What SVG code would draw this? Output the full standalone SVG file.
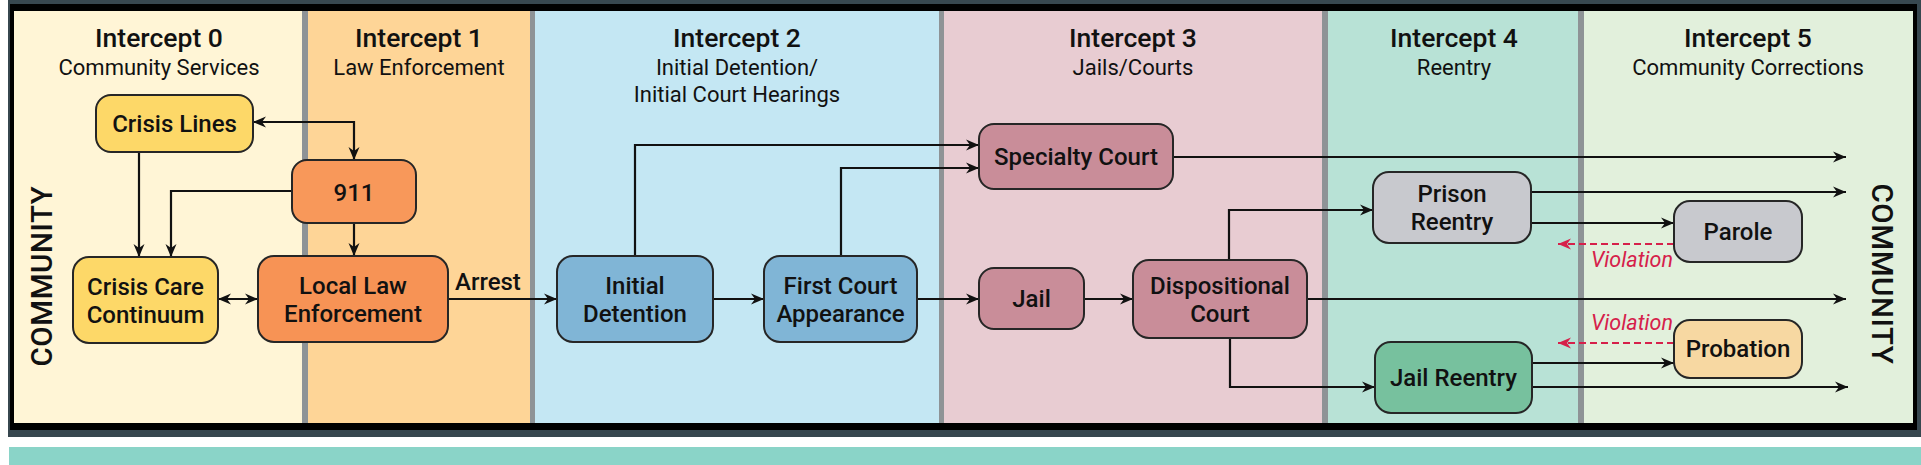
<svg xmlns="http://www.w3.org/2000/svg" width="1921" height="465" viewBox="0 0 1921 465">
<style>
text{font-family:Roboto,"Liberation Sans",sans-serif;fill:#111;}
.h{font-size:26.5px;font-weight:500;text-anchor:middle;}
.s{font-size:22px;font-weight:400;text-anchor:middle;}
.n{font-size:24px;font-weight:500;text-anchor:middle;}
.box{stroke:#262626;stroke-width:2;}
.c{fill:none;stroke:#111;stroke-width:2.2;}
.v{fill:none;stroke:#d6204a;stroke-width:2.2;stroke-dasharray:7 4;}
.vt{font-size:21.5px;font-style:italic;fill:#d6204a;}
.com{font-size:29.5px;font-weight:500;text-anchor:middle;letter-spacing:0.6px;}
</style>
<defs>
<marker id="ar" viewBox="-14 -7 15 14" markerWidth="15" markerHeight="14" refX="0" refY="0" orient="auto-start-reverse" markerUnits="userSpaceOnUse">
<path d="M0,0 L-13,-5.5 L-9,0 L-13,5.5 Z" fill="#111"/>
</marker>
<marker id="arr" viewBox="-14 -7 15 14" markerWidth="15" markerHeight="14" refX="0" refY="0" orient="auto-start-reverse" markerUnits="userSpaceOnUse">
<path d="M0,0 L-13,-5.5 L-9,0 L-13,5.5 Z" fill="#d6204a"/>
</marker>
</defs>
<rect width="1921" height="465" fill="#ffffff"/>
<g id="frame">
<rect x="8" y="0" width="1913" height="437" fill="#37474f"/>
<rect x="10" y="4" width="1907" height="426" fill="#000"/>
<rect x="14" y="11" width="288" height="412" fill="#fff5d6"/>
<rect x="302" y="11" width="6" height="412" fill="#8e9396"/>
<rect x="308" y="11" width="222" height="412" fill="#fed597"/>
<rect x="530" y="11" width="5" height="412" fill="#8e9396"/>
<rect x="535" y="11" width="404" height="412" fill="#c4e7f3"/>
<rect x="939" y="11" width="5" height="412" fill="#8e9396"/>
<rect x="944" y="11" width="378" height="412" fill="#e8ccd2"/>
<rect x="1322" y="11" width="6" height="412" fill="#8e9396"/>
<rect x="1328" y="11" width="250" height="412" fill="#b8e2d6"/>
<rect x="1578" y="11" width="6" height="412" fill="#8e9396"/>
<rect x="1584" y="11" width="329" height="412" fill="#e2f0dc"/>
<rect x="9" y="447" width="1912" height="18" fill="#8ad4c8"/>
</g>
<g id="headers">
<text class="h" x="159" y="47">Intercept 0</text>
<text class="s" x="159" y="75">Community Services</text>
<text class="h" x="419" y="47">Intercept 1</text>
<text class="s" x="419" y="75">Law Enforcement</text>
<text class="h" x="737" y="47">Intercept 2</text>
<text class="s" x="737" y="75">Initial Detention/</text>
<text class="s" x="737" y="102">Initial Court Hearings</text>
<text class="h" x="1133" y="47">Intercept 3</text>
<text class="s" x="1133" y="75">Jails/Courts</text>
<text class="h" x="1454" y="47">Intercept 4</text>
<text class="s" x="1454" y="75">Reentry</text>
<text class="h" x="1748" y="47">Intercept 5</text>
<text class="s" x="1748" y="75">Community Corrections</text>
<text class="com" transform="translate(52,276) rotate(-90)">COMMUNITY</text>
<text class="com" transform="translate(1872,274) rotate(90)">COMMUNITY</text>
</g>
<g id="connectors">
<path class="c" d="M253,122 H354 V160" marker-start="url(#ar)" marker-end="url(#ar)"/>
<path class="c" d="M139,152 V257" marker-end="url(#ar)"/>
<path class="c" d="M292,191 H171 V257" marker-end="url(#ar)"/>
<path class="c" d="M354,223 V256" marker-end="url(#ar)"/>
<path class="c" d="M218,299 H258" marker-start="url(#ar)" marker-end="url(#ar)"/>
<path class="c" d="M448,299 H557" marker-end="url(#ar)"/>
<path class="c" d="M635,256 V145 H979" marker-end="url(#ar)"/>
<path class="c" d="M713,299 H764" marker-end="url(#ar)"/>
<path class="c" d="M841,256 V168 H979" marker-end="url(#ar)"/>
<path class="c" d="M917,299 H979" marker-end="url(#ar)"/>
<path class="c" d="M1084,299 H1133" marker-end="url(#ar)"/>
<path class="c" d="M1229,260 V210 H1373" marker-end="url(#ar)"/>
<path class="c" d="M1230,338 V387 H1375" marker-end="url(#ar)"/>
<path class="c" d="M1173,157 H1846" marker-end="url(#ar)"/>
<path class="c" d="M1531,192 H1846" marker-end="url(#ar)"/>
<path class="c" d="M1307,299 H1846" marker-end="url(#ar)"/>
<path class="c" d="M1531,223 H1674" marker-end="url(#ar)"/>
<path class="c" d="M1532,363 H1674" marker-end="url(#ar)"/>
<path class="c" d="M1532,387 H1848" marker-end="url(#ar)"/>
<path class="v" d="M1674,244 H1558" marker-end="url(#arr)"/>
<path class="v" d="M1674,343 H1558" marker-end="url(#arr)"/>
<text class="n" x="455" y="290" style="text-anchor:start">Arrest</text>
<text class="vt" x="1591" y="267">Violation</text>
<text class="vt" x="1591" y="330">Violation</text>
</g>
<g id="crisis-lines">
<rect class="box" x="96" y="95" width="157" height="57" rx="15" fill="#fdd868"/>
<text class="n" x="174.5" y="132">Crisis Lines</text>
</g>
<g id="n911">
<rect class="box" x="292" y="160" width="124" height="63" rx="15" fill="#f8985a"/>
<text class="n" x="354" y="201">911</text>
</g>
<g id="crisis-care">
<rect class="box" x="73" y="257" width="145" height="86" rx="16" fill="#fdd868"/>
<text class="n" x="145.5" y="295">Crisis Care</text>
<text class="n" x="145.5" y="323">Continuum</text>
</g>
<g id="local-law">
<rect class="box" x="258" y="256" width="190" height="86" rx="16" fill="#f79355"/>
<text class="n" x="353" y="294">Local Law</text>
<text class="n" x="353" y="322">Enforcement</text>
</g>
<g id="initial-detention">
<rect class="box" x="557" y="256" width="156" height="86" rx="16" fill="#80b5d6"/>
<text class="n" x="635" y="294">Initial</text>
<text class="n" x="635" y="322">Detention</text>
</g>
<g id="first-court">
<rect class="box" x="764" y="256" width="153" height="86" rx="16" fill="#80b5d6"/>
<text class="n" x="840.5" y="294">First Court</text>
<text class="n" x="840.5" y="322">Appearance</text>
</g>
<g id="specialty-court">
<rect class="box" x="979" y="124" width="194" height="65" rx="15" fill="#c98d99"/>
<text class="n" x="1076" y="165">Specialty Court</text>
</g>
<g id="jail">
<rect class="box" x="979" y="268" width="105" height="61" rx="15" fill="#c98d99"/>
<text class="n" x="1031.5" y="307">Jail</text>
</g>
<g id="dispositional-court">
<rect class="box" x="1133" y="260" width="174" height="78" rx="16" fill="#c98d99"/>
<text class="n" x="1220" y="294">Dispositional</text>
<text class="n" x="1220" y="322">Court</text>
</g>
<g id="prison-reentry">
<rect class="box" x="1373" y="172" width="158" height="71" rx="16" fill="#c8c9ce"/>
<text class="n" x="1452" y="202">Prison</text>
<text class="n" x="1452" y="230">Reentry</text>
</g>
<g id="parole">
<rect class="box" x="1674" y="201" width="128" height="61" rx="16" fill="#c8c9ce"/>
<text class="n" x="1738" y="240">Parole</text>
</g>
<g id="jail-reentry">
<rect class="box" x="1375" y="342" width="157" height="71" rx="16" fill="#77c19e"/>
<text class="n" x="1453.5" y="386">Jail Reentry</text>
</g>
<g id="probation">
<rect class="box" x="1674" y="320" width="128" height="58" rx="16" fill="#f7d8a2"/>
<text class="n" x="1738" y="357">Probation</text>
</g>
</svg>
